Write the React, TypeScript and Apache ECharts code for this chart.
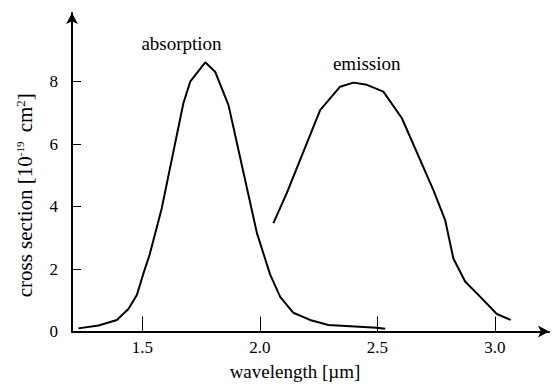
import React, { useEffect, useRef } from "react";
import * as echarts from "echarts";

// Absorption cross section (wavelength µm, 10^-19 cm^2)
const absorptionX = [1.227, 1.313, 1.391, 1.44, 1.476, 1.504, 1.53, 1.582, 1.674, 1.703, 1.767, 1.809, 1.866, 1.987, 2.043, 2.086, 2.142, 2.213, 2.291, 2.497, 2.533];
const absorptionY = [0.1, 0.19, 0.37, 0.72, 1.17, 1.86, 2.45, 3.95, 7.31, 8.0, 8.62, 8.32, 7.25, 3.15, 1.83, 1.11, 0.6, 0.37, 0.21, 0.12, 0.09];

// Emission cross section
const emissionX = [2.057, 2.114, 2.256, 2.341, 2.398, 2.455, 2.525, 2.604, 2.738, 2.788, 2.823, 2.873, 2.944, 3.008, 3.067];
const emissionY = [3.47, 4.43, 7.09, 7.84, 7.97, 7.9, 7.68, 6.83, 4.53, 3.57, 2.34, 1.6, 1.06, 0.56, 0.37];

const xTicks = [1.5, 2.0, 2.5, 3.0];
const yTicks = [0, 2, 4, 6, 8];
const seriesNames = ["absorption", "emission"];
const xAxisTitle = "wavelength [µm]";

const FONT = "Times New Roman";

export default function App() {
  const ref = useRef<HTMLDivElement>(null);
  useEffect(() => {
    const chart = echarts.init(ref.current!, null, { renderer: "svg" });
    const zip = (xs: number[], ys: number[]) => xs.map((x, i) => [x, ys[i]]);
    chart.setOption({
      animation: false,
      textStyle: { fontFamily: FONT },
      grid: { left: 72, right: 6, top: 13, bottom: 55.5 },
      xAxis: {
        type: "value",
        min: 1.2,
        max: 3.23,
        name: xAxisTitle,
        nameLocation: "middle",
        nameGap: 30,
        nameTextStyle: { fontFamily: FONT, fontSize: 19, color: "#000", padding: [0, 31, 0, 0] },
        axisLine: {
          show: true,
          symbol: ["none", "arrow"],
          symbolSize: [9, 11],
          lineStyle: { color: "#000", width: 2 },
        },
        axisTick: { show: true, inside: true, length: 15, customValues: xTicks, lineStyle: { color: "#000", width: 1 } },
        axisLabel: {
          customValues: xTicks,
          formatter: (v: number) => v.toFixed(1),
          fontFamily: FONT,
          fontSize: 17,
          color: "#000",
          margin: 7,
        },
        splitLine: { show: false },
      },
      yAxis: {
        type: "value",
        min: 0,
        max: 10.2,
        interval: 2,
        name: "cross section [10{sup|-19} cm{sup2|2}]",
        nameLocation: "middle",
        nameGap: 36,
        nameTextStyle: {
          fontFamily: FONT,
          fontSize: 21,
          color: "#000",
          padding: [0, 46, 0, 0],
          rich: {
            sup: { fontFamily: FONT, fontSize: 11, color: "#000", verticalAlign: "top", padding: [0, 4, 9, 0] },
            sup2: { fontFamily: FONT, fontSize: 13, color: "#000", verticalAlign: "top", padding: [0, 0, 9, 0] },
          },
        },
        axisLine: {
          show: true,
          symbol: ["none", "arrow"],
          symbolSize: [9, 11],
          lineStyle: { color: "#000", width: 2 },
        },
        axisTick: { show: true, inside: true, length: 9, customValues: yTicks, lineStyle: { color: "#000", width: 1 } },
        axisLabel: {
          customValues: yTicks,
          fontFamily: FONT,
          fontSize: 17,
          color: "#000",
          margin: 14,
        },
        splitLine: { show: false },
      },
      series: [
        {
          name: seriesNames[0],
          type: "line",
          data: zip(absorptionX, absorptionY),
          symbol: "none",
          lineStyle: { color: "#000", width: 2 },
        },
        {
          name: seriesNames[1],
          type: "line",
          data: zip(emissionX, emissionY),
          symbol: "none",
          lineStyle: { color: "#000", width: 2 },
        },
      ],
      graphic: [
        {
          type: "text",
          x: 181.5,
          y: 43,
          style: { text: seriesNames[0], fill: "#000", fontFamily: FONT, fontSize: 19, align: "center", verticalAlign: "middle" },
        },
        {
          type: "text",
          x: 366.7,
          y: 63.3,
          style: { text: seriesNames[1], fill: "#000", fontFamily: FONT, fontSize: 19, align: "center", verticalAlign: "middle" },
        },
      ],
    });
    return () => chart.dispose();
  }, []);
  return <div ref={ref} style={{ position: "absolute", left: 0, top: 0, width: 555, height: 387 }} />;
}
